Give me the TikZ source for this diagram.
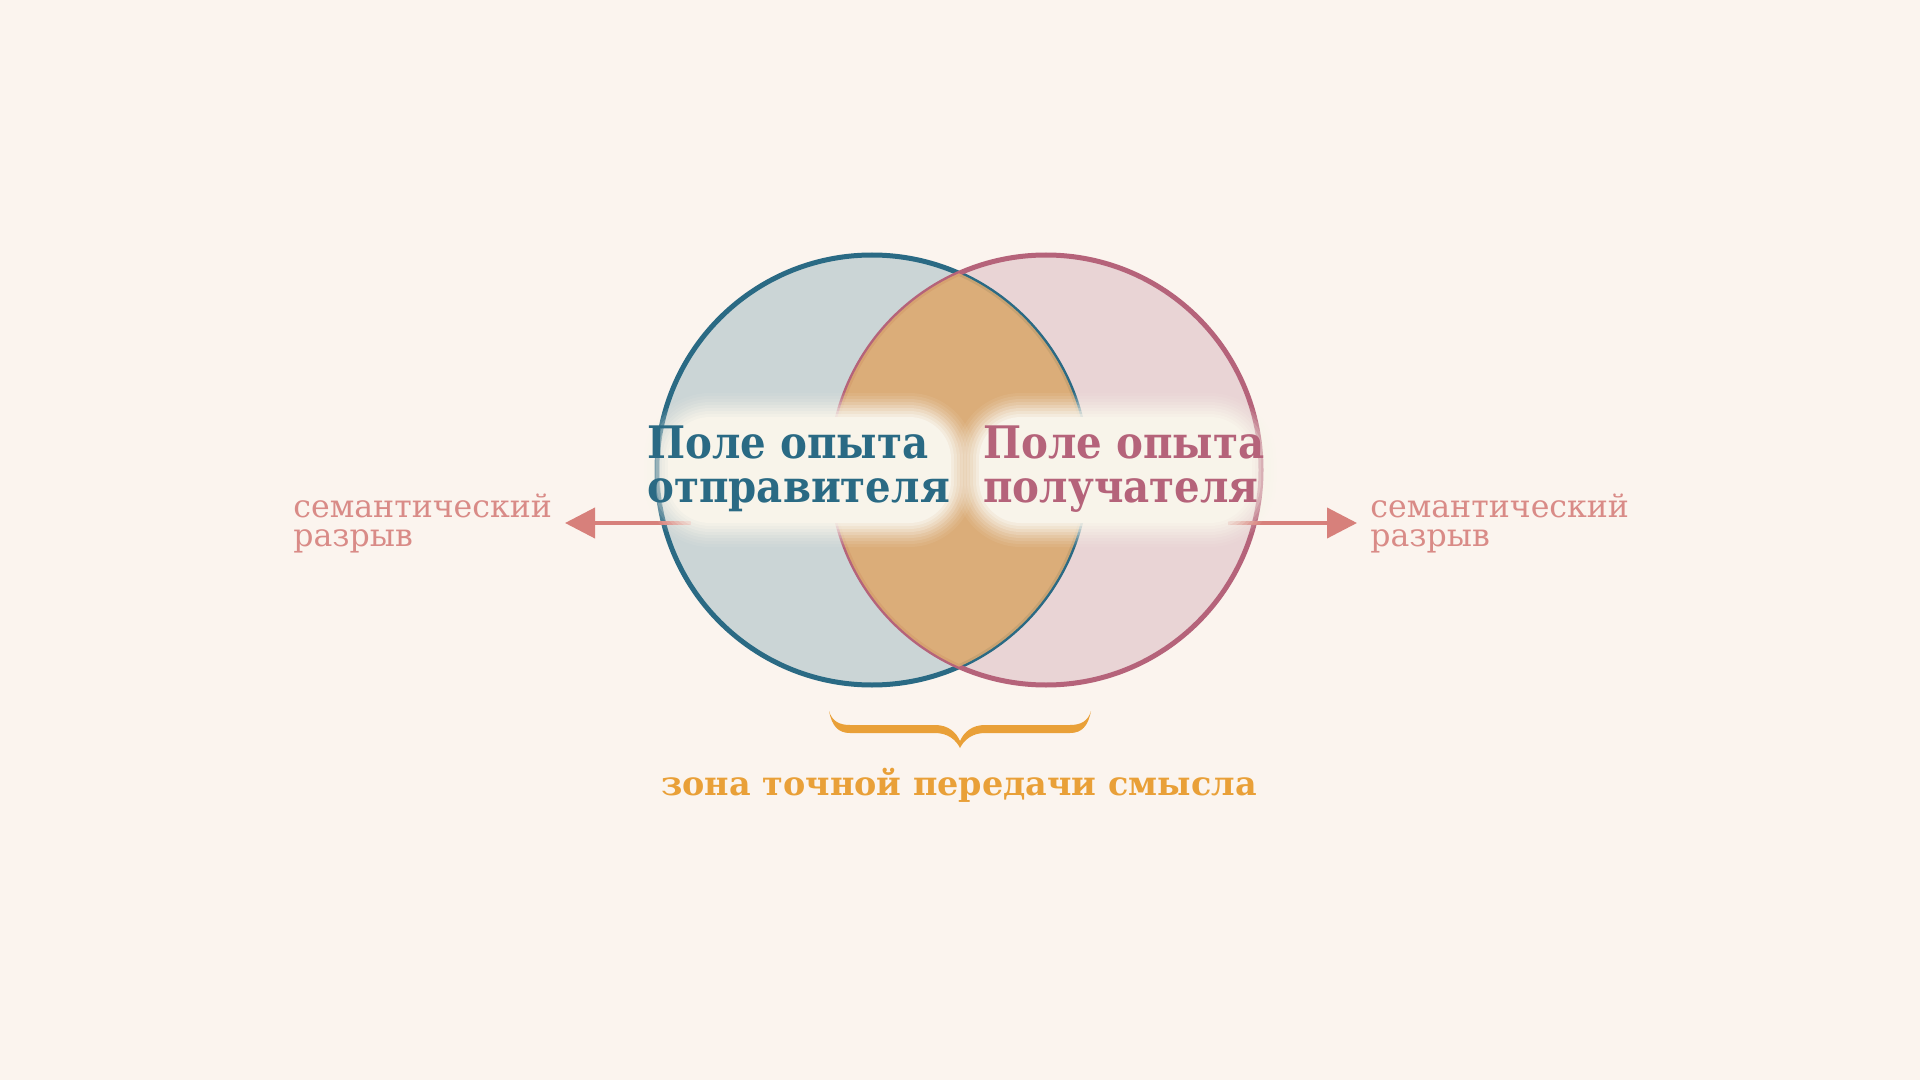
\documentclass[tikz,border=0pt]{standalone}
\usepackage{fontspec}
\setmainfont{DejaVu Serif}
\newfontfamily\condserif{DejaVu Serif Condensed}
\usetikzlibrary{arrows.meta}
\definecolor{bg}{HTML}{FBF4EE}
\definecolor{blueS}{HTML}{2A6A84}
\definecolor{blueF}{HTML}{CBD5D6}
\definecolor{pinkS}{HTML}{B5637A}
\definecolor{pinkF}{HTML}{E9D4D5}
\definecolor{lens}{HTML}{DAA970}
\definecolor{boxC}{HTML}{F8F4EA}
\definecolor{arrowC}{HTML}{D7807B}
\definecolor{labelC}{HTML}{D98B87}
\definecolor{braceC}{HTML}{E9A038}
\newcommand\softbox[4]{% x1 y1 x2 y2 (px)
  \foreach \d/\o in {-12/0.08,-9/0.1,-6/0.13,-3/0.17,0/0.22,3/0.28,6/0.36,9/0.5,12/1} {
    \pgfmathsetmacro\rr{(54-\d)*0.5}
    \fill[boxC, opacity=\o, rounded corners=\rr pt]
      ({#1+\d},{#2+\d}) rectangle ({#3-\d},{#4-\d});
  }}
\tikzset{
  titleL/.style={anchor=base west, inner sep=0pt, text=blueS, font=\condserif\fontsize{22.4pt}{22.4pt}\selectfont\bfseries},
  titleR/.style={titleL, text=pinkS},
  sem/.style={anchor=base west, inner sep=0pt, text=labelC, font=\fontsize{15.8pt}{15.8pt}\selectfont},
  gap/.style={draw=arrowC, line width=2pt, -{Triangle[length=15pt,width=15pt]}},
}
\begin{document}
\begin{tikzpicture}[x=0.5pt,y=-0.5pt]
\fill[bg] (0,0) rectangle (1920,1080);
\useasboundingbox (0,0) rectangle (1920,1080);
% circles
\coordinate (cL) at (872,470);
\coordinate (cR) at (1046,470);
\fill[blueF] (cL) circle[radius=215];
\fill[pinkF] (cR) circle[radius=215];
\draw[blueS, line width=2.5pt] (cL) circle[radius=215];
\draw[pinkS, line width=2.5pt] (cR) circle[radius=215];
\begin{scope}
  \clip (cL) circle[radius=215];
  \fill[lens, opacity=0.9] (cR) circle[radius=215];
\end{scope}
% arrows
\coordinate (la0) at (691,523);
\coordinate (la1) at (565,523);
\coordinate (ra0) at (1228,523);
\coordinate (ra1) at (1357,523);
\draw[gap] (la0) -- (la1);
\draw[gap] (ra0) -- (ra1);
% soft boxes
\softbox{656}{405}{963}{535}
\softbox{967}{405}{1264}{535}
% titles
\node[titleL] (s1) at (647,458) {Поле опыта};
\node[titleL] (s2) at (647,502) {отправителя};
\node[titleR] (r1) at (983,458) {Поле опыта};
\node[titleR] (r2) at (983,502) {получателя};
% side labels
\node[sem] (gl1) at (293,517) {семантический};
\node[sem] (gl2) at (293,546) {разрыв};
\node[sem] (gr1) at (1370,517) {семантический};
\node[sem] (gr2) at (1370,546) {разрыв};
% brace
\fill[braceC] (829,711) .. controls (832,726) and (838,733) .. (850,733) -- (935,733)
  .. controls (948,733) and (956,740) .. (960,748)
  .. controls (964,740) and (972,733) .. (985,733) -- (1070,733)
  .. controls (1082,733) and (1088,726) .. (1091,711)
  .. controls (1088,721) and (1081,725) .. (1070,725) -- (985,725)
  .. controls (972,725) and (964,732) .. (960,741)
  .. controls (956,732) and (948,725) .. (935,725) -- (850,725)
  .. controls (839,725) and (832,721) .. (829,711) -- cycle;
\node[anchor=base, inner sep=0pt, text=braceC, font=\fontsize{16.7pt}{16.7pt}\selectfont\bfseries] (zone) at (959,795) {зона точной передачи смысла};
\end{tikzpicture}
\end{document}
